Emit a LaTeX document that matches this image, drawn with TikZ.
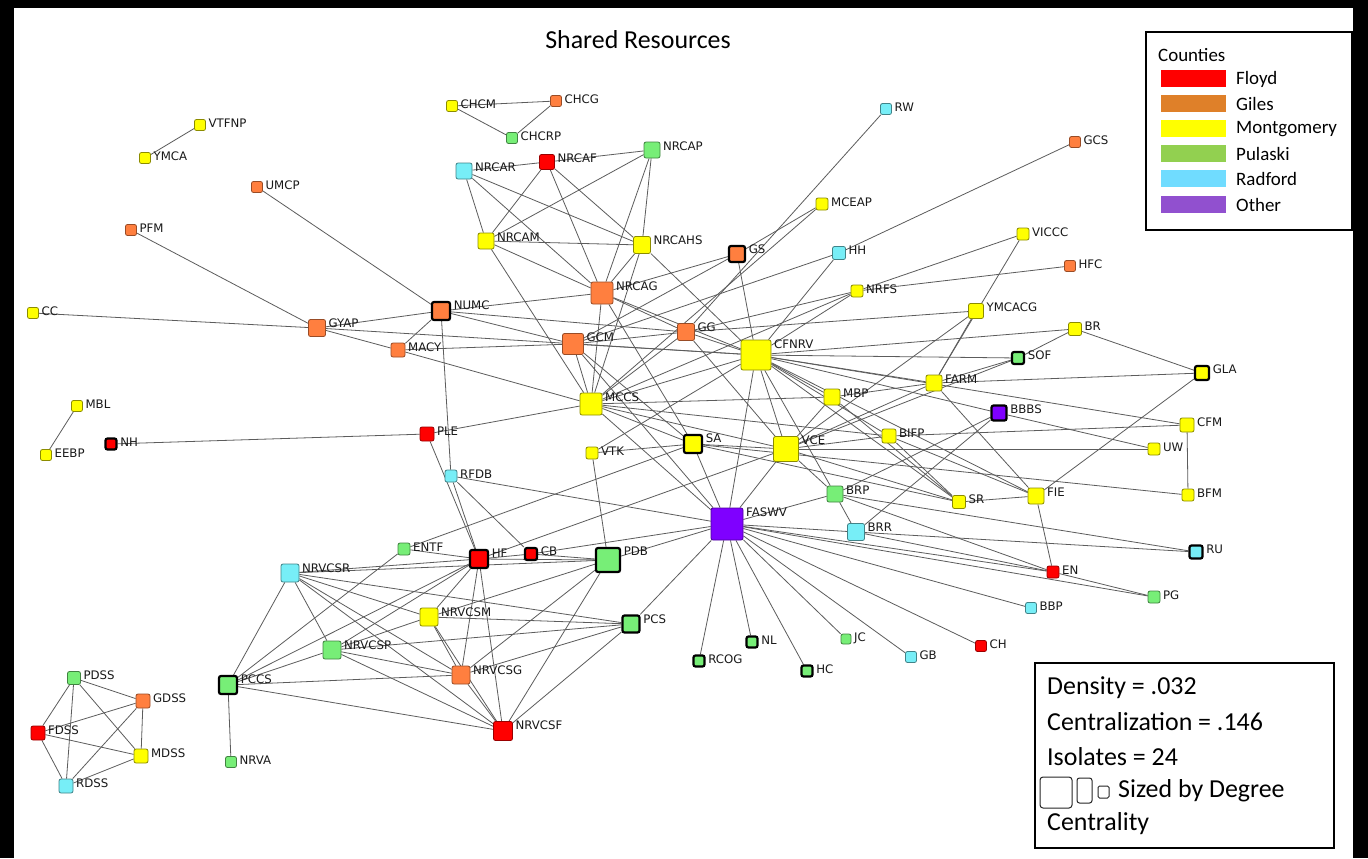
\documentclass[tikz,border=0pt]{standalone}
\usepackage{fontspec}
\setmainfont{Carlito}
\newfontfamily\labfont{DejaVu Sans}
\usetikzlibrary{backgrounds}

% node fills by county
\definecolor{nFl}{HTML}{FF0000}
\definecolor{nGi}{HTML}{FF7F3F}
\definecolor{nMo}{HTML}{FFFF00}
\definecolor{nPu}{HTML}{77EE77}
\definecolor{nRa}{HTML}{77EEF7}
\definecolor{nOt}{HTML}{7F00FF}
% legend swatches
\definecolor{lFl}{HTML}{FF0000}
\definecolor{lGi}{HTML}{DF8029}
\definecolor{lMo}{HTML}{FFFF00}
\definecolor{lPu}{HTML}{92D050}
\definecolor{lRa}{HTML}{70DCFF}
\definecolor{lOt}{HTML}{9150CF}

% \nd[extra]{county style}{side}{x,y}{name}
\newcommand\nd[5][]{\node[box,#2,minimum size=#3bp,#1,label={[lab]north east:#5}] (#5) at (#4) {};}

\begin{document}
\begin{tikzpicture}[x=1bp,y=-1bp,
  box/.style={rectangle,rounded corners=2bp,inner sep=0pt,line width=0.8bp},
  lab/.style={font=\labfont\fontsize{11.8}{11.8}\selectfont,inner sep=0pt,text=black!90,
              anchor=west,xshift=2.5bp,yshift=-4.5bp},
  fl/.style={fill=nFl,draw=nFl!60!black},
  gi/.style={fill=nGi,draw=nGi!60!black},
  mo/.style={fill=nMo,draw=nMo!55!black},
  pu/.style={fill=nPu,draw=nPu!55!black},
  ra/.style={fill=nRa,draw=nRa!55!black},
  ot/.style={fill=nOt,draw=nOt!60!black},
  hub/.style={draw=black,line width=2.2bp},
  edge/.style={draw=black!64,line width=0.8bp},
  txt/.style={inner sep=0pt,anchor=west}]

\useasboundingbox (0,0) rectangle (1368,858);
\begin{scope}[on background layer]
  \fill[white] (0,0) rectangle (1368,858);
\end{scope}

% ---------- nodes: Giles
\nd{gi}{11}{257,187}{UMCP}
\nd{gi}{11}{131,230}{PFM}
\nd{gi}{17}{317,328}{GYAP}
\nd{gi}{14}{398,350}{MACY}
\nd[hub]{gi}{18}{441,311}{NUMC}
\nd{gi}{11}{556,101}{CHCG}
\nd{gi}{22}{602,293}{NRCAG}
\nd[hub]{gi}{16}{737,254}{GS}
\nd{gi}{17}{686,332}{GG}
\nd{gi}{21}{573,344}{GCM}
\nd{gi}{11}{1075,142}{GCS}
\nd{gi}{11}{1070,266}{HFC}
\nd{gi}{18}{461,675}{NRVCSG}
\nd{gi}{14}{143,701}{GDSS}
% ---------- nodes: Montgomery
\nd{mo}{11}{200,125}{VTFNP}
\nd{mo}{11}{145,158}{YMCA}
\nd{mo}{11}{33,313}{CC}
\nd{mo}{11}{452,106}{CHCM}
\nd{mo}{16}{486,241}{NRCAM}
\nd{mo}{17}{642,245}{NRCAHS}
\nd{mo}{12}{822,204}{MCEAP}
\nd{mo}{12}{857,291}{NRFS}
\nd{mo}{12}{1023,234}{VICCC}
\nd{mo}{15}{976,311}{YMCACG}
\nd{mo}{13}{1075,329}{BR}
\nd[hub]{mo}{14}{1202,373}{GLA}
\nd{mo}{16}{934,383}{FARM}
\nd{mo}{16}{832,397}{MBP}
\nd{mo}{14}{889,436}{BIFP}
\nd{mo}{14}{1187,425}{CFM}
\nd{mo}{12}{1154,449}{UW}
\nd{mo}{12}{1188,495}{BFM}
\nd{mo}{16}{1036,496}{FIE}
\nd{mo}{13}{959,502}{SR}
\nd{mo}{30}{756,355}{CFNRV}
\nd{mo}{22}{591,404}{MCCS}
\nd[hub]{mo}{18}{693,444}{SA}
\nd{mo}{25}{786,449}{VCE}
\nd{mo}{12}{592,453}{VTK}
\nd{mo}{11}{77,406}{MBL}
\nd{mo}{11}{46,455}{EEBP}
\nd{mo}{18}{429,617}{NRVCSM}
\nd{mo}{14}{141,756}{MDSS}
% ---------- nodes: Pulaski
\nd{pu}{11}{512,138}{CHCRP}
\nd{pu}{16}{652,150}{NRCAP}
\nd[hub]{pu}{12}{1018,358}{SOF}
\nd{pu}{16}{835,494}{BRP}
\nd{pu}{12}{1154,597}{PG}
\nd{pu}{12}{404,549}{ENTF}
\nd[hub]{pu}{24}{608,560}{PDB}
\nd[hub]{pu}{17}{631,624}{PCS}
\nd{pu}{18}{332,650}{NRVCSP}
\nd[hub]{pu}{18}{228,685}{PCCS}
\nd{pu}{11}{231,762}{NRVA}
\nd[hub]{pu}{11}{699,661}{RCOG}
\nd[hub]{pu}{11}{752,642}{NL}
\nd[hub]{pu}{11}{807,671}{HC}
\nd{pu}{10}{846,639}{JC}
\nd{pu}{13}{74,678}{PDSS}
% ---------- nodes: Radford
\nd{ra}{16}{464,171}{NRCAR}
\nd{ra}{13}{839,253}{HH}
\nd{ra}{11}{886,109}{RW}
\nd{ra}{12}{451,476}{RFDB}
\nd{ra}{17}{856,532}{BRR}
\nd[hub]{ra}{13}{1196,552}{RU}
\nd{ra}{11}{1031,608}{BBP}
\nd{ra}{11}{911,657}{GB}
\nd{ra}{18}{290,573}{NRVCSR}
\nd{ra}{14}{66,786}{RDSS}
% ---------- nodes: Floyd
\nd{fl}{15}{547,162}{NRCAF}
\nd{fl}{14}{427,434}{PLE}
\nd[hub]{fl}{11}{111,444}{NH}
\nd[hub]{fl}{18}{479,559}{HF}
\nd[hub]{fl}{12}{531,554}{CB}
\nd{fl}{12}{1053,572}{EN}
\nd{fl}{11}{981,646}{CH}
\nd{fl}{19}{503,731}{NRVCSF}
\nd{fl}{14}{38,733}{FDSS}
% ---------- nodes: Other
\nd{ot}{32}{727,524}{FASWV}
\nd[hub]{ot}{15}{999,413}{BBBS}

% ---------- ties
\begin{scope}[on background layer]
\foreach \a/\b in {
  VTFNP/YMCA, MBL/EEBP, NH/PLE, CHCM/CHCG, CHCM/CHCRP, CHCG/CHCRP, PCCS/NRVA,
  PDSS/GDSS, PDSS/FDSS, PDSS/RDSS, PDSS/MDSS, GDSS/FDSS, GDSS/MDSS, GDSS/RDSS,
  FDSS/MDSS, FDSS/RDSS, RDSS/MDSS,
  UMCP/NUMC, PFM/GYAP, CC/GYAP, GYAP/NUMC, GYAP/MACY, GYAP/CFNRV,
  MACY/NUMC, MACY/GCM, MACY/MCCS,
  NUMC/NRCAG, NUMC/GCM, NUMC/GG, NUMC/RFDB,
  NRCAR/NRCAF, NRCAF/NRCAP, NRCAR/NRCAM, NRCAR/NRCAHS, NRCAR/NRCAG,
  NRCAF/NRCAM, NRCAF/NRCAG, NRCAF/NRCAHS, NRCAP/NRCAM, NRCAP/NRCAHS, NRCAP/NRCAG,
  NRCAM/NRCAHS, NRCAM/NRCAG, NRCAM/MCCS, NRCAHS/NRCAG, NRCAHS/CFNRV, NRCAHS/MCCS,
  NRCAG/GS, NRCAG/GG, NRCAG/CFNRV, NRCAG/MCCS, NRCAG/SA,
  GS/CFNRV, GS/GCM, GS/MCEAP, MCEAP/MCCS, RW/GG, GCS/HH, HH/GCM, HH/CFNRV,
  NRFS/VICCC, NRFS/HFC, NRFS/CFNRV, NRFS/GG, NRFS/MCCS,
  VICCC/FARM, YMCACG/GG, YMCACG/FARM, YMCACG/VCE,
  BR/GLA, BR/SOF, BR/CFNRV, SOF/FARM, SOF/CFNRV, SOF/VCE,
  GLA/FARM, GLA/FIE, FARM/CFNRV, FARM/MBP, FARM/FIE, FARM/VCE,
  CFM/BFM, CFM/CFNRV, CFM/BIFP, UW/BBBS, UW/VCE, BFM/SA,
  FIE/SR, FIE/EN, FIE/BIFP, SR/BIFP, SR/MBP, SR/VCE, SR/SA,
  BBBS/CFNRV, BBBS/BRP, BBBS/BRR,
  BIFP/VCE, BIFP/CFNRV, BIFP/MCCS, MBP/MCCS, MBP/VCE, MBP/CFNRV,
  VCE/CFNRV, VCE/SA, VCE/FASWV, VCE/BRP, VCE/MCCS, VCE/HF, VCE/GG,
  SA/VTK, SA/FASWV, SA/MCCS, SA/ENTF, SA/GCM, VTK/PDB, VTK/CFNRV,
  MCCS/PLE, MCCS/GCM, MCCS/CFNRV, MCCS/FASWV, MCCS/GG,
  GCM/CFNRV, GCM/GG, GCM/FASWV, GG/CFNRV,
  CFNRV/FASWV, CFNRV/BRP, CFNRV/SR, CFNRV/FIE,
  RU/BRR, RU/BRP, PG/EN, PG/FASWV, EN/BRP, EN/BRR, EN/FASWV,
  BRR/BRP, BRR/FASWV, BRP/FASWV,
  FASWV/RFDB, FASWV/PDB, FASWV/CB, FASWV/PCS, FASWV/RCOG, FASWV/NL, FASWV/HC,
  FASWV/JC, FASWV/GB, FASWV/CH, FASWV/BBP,
  PDB/CB, PDB/HF, PDB/NRVCSR, PDB/NRVCSM, PDB/NRVCSG, PDB/NRVCSF,
  CB/HF, CB/RFDB,
  HF/PLE, HF/RFDB, HF/ENTF, HF/NRVCSR, HF/NRVCSM, HF/NRVCSP, HF/NRVCSG, HF/NRVCSF, HF/PCCS,
  PCS/NRVCSR, PCS/NRVCSM, PCS/NRVCSP, PCS/NRVCSG, PCS/NRVCSF,
  NRVCSR/NRVCSP, NRVCSR/NRVCSM, NRVCSR/NRVCSG, NRVCSR/NRVCSF, NRVCSR/PCCS,
  ENTF/PCCS, NRVCSM/NRVCSP, NRVCSM/NRVCSG, NRVCSM/NRVCSF,
  NRVCSP/PCCS, NRVCSP/NRVCSG, NRVCSP/NRVCSF,
  NRVCSG/NRVCSF, NRVCSG/PCCS, NRVCSF/PCCS}
  \draw[edge] (\a) -- (\b);
\end{scope}

% ---------- title
\node[inner sep=0pt,font=\fontsize{26}{26}\selectfont] (title) at (638,40) {Shared Resources};

% ---------- county legend
\draw[line width=1.5bp] (1146,32) rectangle (1352,230);
\node[txt,font=\fontsize{19}{19}\selectfont] (lgtitle) at (1158,55) {Counties};
\foreach \c/\t/\y in {lFl/Floyd/78, lGi/Giles/103, lMo/Montgomery/128, lPu/Pulaski/153, lRa/Radford/178, lOt/Other/204}{
  \fill[\c] (1161,\y-8.5) rectangle (1226,\y+8.5);
  \node[txt,font=\fontsize{19}{19}\selectfont] (lg\t) at (1236,\y+1) {\t};
}

% ---------- summary box
\draw[line width=1.3bp] (1035,663) rectangle (1334,848);
\begin{scope}[every node/.style={txt,font=\fontsize{26}{26}\selectfont}]
  \node (sDen) at (1047,688) {Density = .032};
  \node (sCen) at (1047,722) {Centralization = .146};
  \node (sIso) at (1047,757) {Isolates = 24};
  \node (sSiz) at (1118,791) {Sized by Degree};
  \node (sCtl) at (1047,824) {Centrality};
\end{scope}
\draw[black!85,line width=1bp,rounded corners=3bp] (1040,777) rectangle (1072,808);
\draw[black!85,line width=1bp,rounded corners=2.5bp] (1077,778) rectangle (1092,803);
\draw[black!85,line width=1bp,rounded corners=1.5bp] (1098,786) rectangle (1109,798);

% ---------- frame
\fill[black] (0,0) rectangle (14,858);
\fill[black] (0,0) rectangle (1368,8);
\fill[black] (1353,0) rectangle (1368,858);
\end{tikzpicture}
\end{document}
